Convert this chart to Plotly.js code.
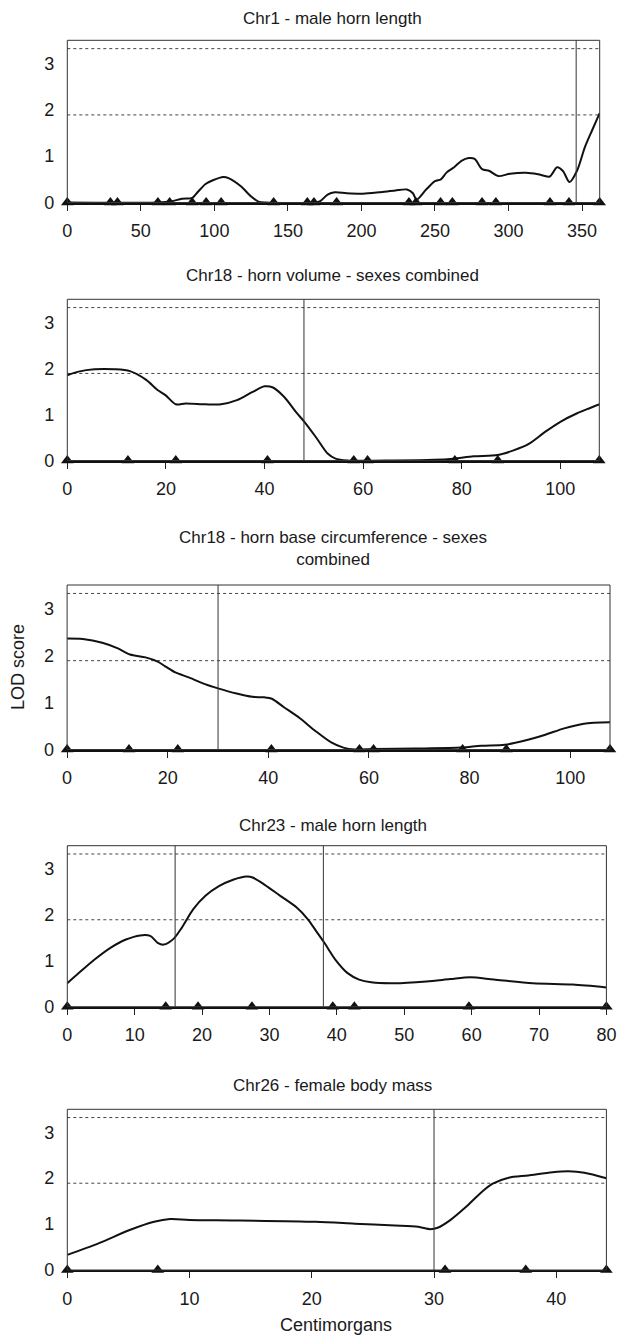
<!DOCTYPE html>
<html>
<head>
<meta charset="utf-8">
<script src="https://cdn.plot.ly/plotly-3.0.1.min.js"></script>
<style>html,body{margin:0;padding:0;background:#fff;}#chart{width:619px;height:1337px;}</style>
</head>
<body>
<div id="chart"></div>
<script>
// ---- Data (cM, LOD) ----
const titles = [
  "Chr1 - male horn length",
  "Chr18 - horn volume - sexes combined",
  "Chr18 - horn base circumference - sexes<br>combined",
  "Chr23 - male horn length",
  "Chr26 - female body mass"
];
const xLabel = "Centimorgans";
const yLabel = "LOD score";
const thresholds = [1.89, 3.32];

const chr1_cM  = [0,62,70,78,85,88,94,99,106,110,118,125,130,135,168,172,177,182,190,201,212,223,231,235,237.5,244,250,254,258,263,268,273,277,282,287,293,301,312,320,328,333,337,341.5,346.5,352,357,362];
const chr1_lod = [0,0,0.02,0.08,0.1,0.2,0.4,0.48,0.55,0.52,0.35,0.13,0.02,0,0,0.03,0.17,0.22,0.2,0.19,0.22,0.26,0.28,0.2,0.06,0.28,0.46,0.5,0.65,0.76,0.9,0.96,0.94,0.72,0.68,0.57,0.62,0.64,0.61,0.56,0.76,0.68,0.44,0.68,1.2,1.57,1.93];
const chr1_markers = [0,29.3,34.1,61.6,69.6,84.9,94.4,104.6,140.3,163.2,167.7,183.1,232.3,237.1,253.8,261.8,282,291.4,328.2,341.1,362];
const chr1_qtl = [346];

const chr18v_cM  = [0,2.3,5.5,9.6,12.7,16,18.3,19.9,22,24,28,31.2,34.4,37.6,40,41.6,44,46.4,48,50.4,52.8,54.4,56.8,66.4,74.4,78.3,82.4,87.3,90.5,93.6,96.9,100,103.3,105.8,108];
const chr18v_lod = [1.85,1.93,1.98,1.98,1.94,1.75,1.53,1.42,1.22,1.24,1.22,1.22,1.31,1.49,1.61,1.59,1.38,1.05,0.85,0.51,0.15,0.04,0,0,0.015,0.04,0.09,0.12,0.22,0.36,0.62,0.84,1.02,1.13,1.22];
const chr18_markers = [0,12.3,22,40.6,58.1,60.9,78.6,87.3,107.9];
const chr18v_qtl = [48];

const chr18c_cM  = [0,3.1,7,10.1,12.5,15.6,18,19.5,21.5,24.3,27.4,30,33.7,36.8,39.2,40.7,43.1,46.2,49.4,52.5,54.9,57.2,61,69,78.4,82.3,87,91,94.9,98.8,102.7,107.9];
const chr18c_lod = [2.36,2.35,2.27,2.15,2.02,1.96,1.87,1.77,1.64,1.53,1.39,1.30,1.19,1.12,1.11,1.08,0.90,0.67,0.39,0.15,0.04,0,0.01,0.02,0.04,0.08,0.1,0.19,0.31,0.45,0.55,0.58];
const chr18c_qtl = [30];

const chr23_cM  = [0,1.7,4,6.4,8.7,10.8,12.3,13.4,14.3,15.8,17,18.7,20.5,22.5,24.6,26.6,27.5,29.3,31.6,34,35.7,36.9,38.1,39.8,41.6,43.3,45.1,48.6,53.3,56.8,59.8,63.3,69.1,75,80];
const chr23_lod = [0.51,0.73,1.02,1.28,1.46,1.55,1.54,1.39,1.35,1.48,1.72,2.12,2.41,2.62,2.76,2.83,2.81,2.65,2.41,2.16,1.90,1.65,1.40,1.02,0.73,0.59,0.53,0.51,0.55,0.6,0.64,0.59,0.51,0.48,0.42];
const chr23_markers = [0,14.6,19.4,27.4,39.4,42.6,59.6,80];
const chr23_qtl = [16,38];

const chr26_cM  = [0,2.55,5.1,7.1,8.4,10,13.8,20.3,23.5,26.8,28.7,29.7,30.3,31.3,32.6,33.9,34.8,36.1,37.7,39.7,41,42.3,44.1];
const chr26_lod = [0.33,0.58,0.87,1.05,1.11,1.09,1.08,1.05,1.01,0.97,0.94,0.89,0.92,1.08,1.37,1.70,1.88,2.01,2.06,2.13,2.15,2.12,2.0];
const chr26_markers = [0,7.4,30.9,37.5,44.1];
const chr26_qtl = [30];

const xTicks = [
  [0,50,100,150,200,250,300,350],
  [0,20,40,60,80,100],
  [0,20,40,60,80,100],
  [0,10,20,30,40,50,60,70,80],
  [0,10,20,30,40]
];
const yTicks = [0,1,2,3];

// ---- Layout geometry (pixels) ----
const W = 619, H = 1337;
const panels = [
  {cM: chr1_cM,   lod: chr1_lod,   mk: chr1_markers,  qtl: chr1_qtl,   xr:[0,362],   l:67.3, r:599.7, t:40.3,  b:202.5, ty:18.3},
  {cM: chr18v_cM, lod: chr18v_lod, mk: chr18_markers, qtl: chr18v_qtl, xr:[0,107.9], l:67.3, r:599.3, t:299.3, b:460.5, ty:275},
  {cM: chr18c_cM, lod: chr18c_lod, mk: chr18_markers, qtl: chr18c_qtl, xr:[0,107.9], l:67.1, r:610.0, t:585,   b:749.5, ty:548.3},
  {cM: chr23_cM,  lod: chr23_lod,  mk: chr23_markers, qtl: chr23_qtl,  xr:[0,80],    l:67.3, r:606.4, t:845.7, b:1006.7, ty:825},
  {cM: chr26_cM,  lod: chr26_lod,  mk: chr26_markers, qtl: chr26_qtl,  xr:[0,44.1],  l:67.3, r:606.4, t:1109.3, b:1270, ty:1085}
];

const FONT = "Liberation Sans, Arial, Helvetica, sans-serif";
const TXT = "#1a1a1a";
const traces = [];
const layout = {
  width: W, height: H,
  margin: {l:0, r:0, t:0, b:0},
  paper_bgcolor: "#fff", plot_bgcolor: "#fff",
  showlegend: false,
  font: {family: FONT, size: 17, color: TXT},
  shapes: [], annotations: []
};

panels.forEach((p, i) => {
  const n = i + 1;
  const xa = "x" + (n === 1 ? "" : n), ya = "y" + (n === 1 ? "" : n);
  const xk = "xaxis" + (n === 1 ? "" : n), yk = "yaxis" + (n === 1 ? "" : n);
  traces.push({
    x: p.cM, y: p.lod, xaxis: xa, yaxis: ya, type: "scatter", mode: "lines",
    line: {color: "#111", width: 2, shape: "spline", smoothing: 0.8}, hoverinfo: "skip"
  });
  traces.push({
    x: p.mk, y: p.mk.map(() => 0), xaxis: xa, yaxis: ya, type: "scatter", mode: "markers",
    marker: {symbol: "triangle-up", size: 11, color: "#111"}, cliponaxis: false, hoverinfo: "skip"
  });
  layout[xk] = {
    domain: [p.l / W, p.r / W], anchor: ya, range: p.xr,
    tickvals: xTicks[i], ticks: "outside", ticklen: 6, tickwidth: 1, tickcolor: "#222",
    showline: true, linecolor: "#111", linewidth: 2, showgrid: false, zeroline: false,
    tickfont: {size: 18, family: FONT, color: TXT}, ticklabelstandoff: 5
  };
  layout[yk] = {
    domain: [1 - p.b / H, 1 - p.t / H], anchor: xa, range: [0, 3.5],
    tickvals: yTicks, ticks: "", showline: false, showgrid: false, zeroline: false,
    tickfont: {size: 18, family: FONT, color: TXT}, ticklabelstandoff: 12
  };
  // frame
  layout.shapes.push({type: "rect", xref: xa + " domain", yref: ya + " domain", x0: 0, x1: 1, y0: 0, y1: 1,
    line: {color: "#333", width: 1}, fillcolor: "rgba(0,0,0,0)", layer: "above"});
  // thresholds
  thresholds.forEach(v => layout.shapes.push({type: "line", xref: xa + " domain", yref: ya, x0: 0, x1: 1, y0: v, y1: v,
    line: {color: "#444", width: 1, dash: "dot"}, layer: "below"}));
  // QTL positions
  p.qtl.forEach(v => layout.shapes.push({type: "line", xref: xa, yref: ya + " domain", x0: v, x1: v, y0: 0, y1: 1,
    line: {color: "#333", width: 1}, layer: "above"}));
  // title
  layout.annotations.push({text: titles[i], xref: "paper", yref: "paper", x: 333 / W, y: 1 - p.ty / H,
    xanchor: "center", yanchor: "middle", showarrow: false, font: {size: 17, family: FONT, color: TXT}});
});

layout.annotations.push({text: yLabel, xref: "paper", yref: "paper", x: 18 / W, y: 1 - 667 / H, textangle: -90,
  xanchor: "center", yanchor: "middle", showarrow: false, font: {size: 18, family: FONT, color: TXT}});
layout.annotations.push({text: xLabel, xref: "paper", yref: "paper", x: 336 / W, y: 1 - 1325 / H,
  xanchor: "center", yanchor: "middle", showarrow: false, font: {size: 18, family: FONT, color: TXT}});

Plotly.newPlot("chart", traces, layout, {staticPlot: true, displayModeBar: false});
</script>
</body>
</html>
